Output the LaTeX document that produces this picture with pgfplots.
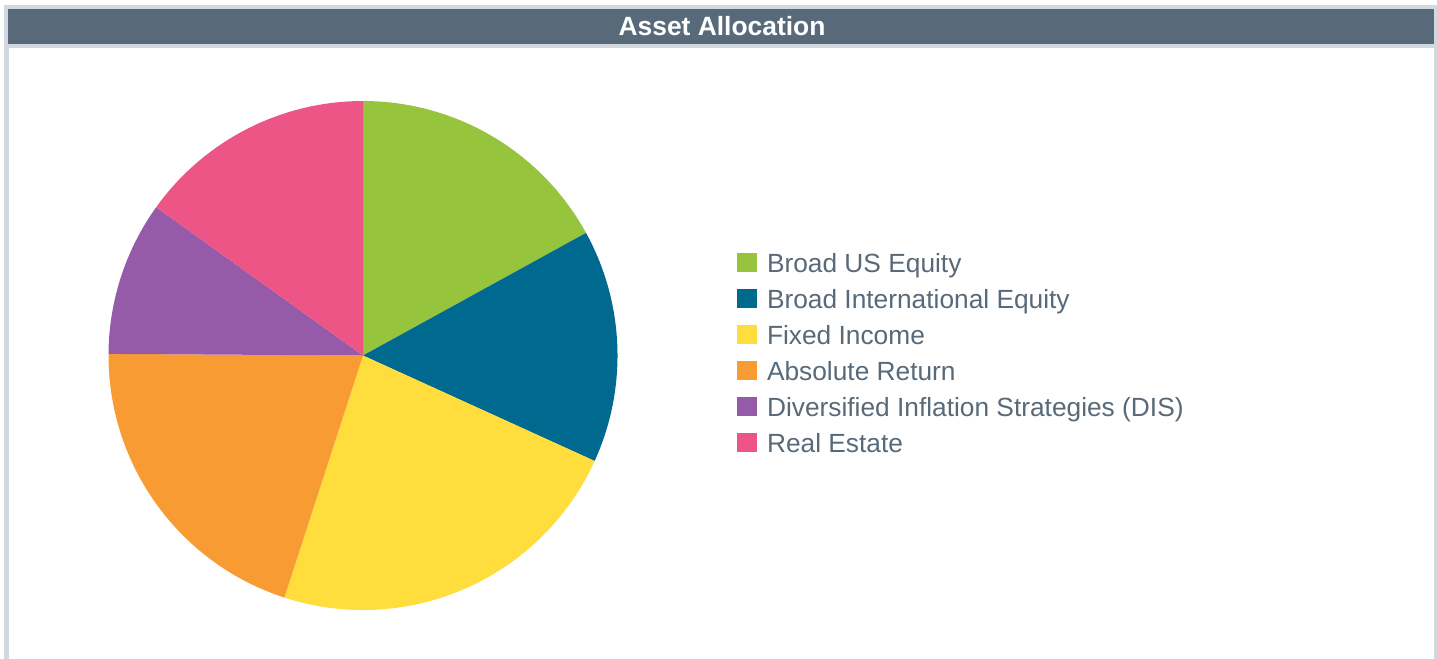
\documentclass[border=0pt]{standalone}
\usepackage{pgfplots}
\pgfplotsset{compat=1.18}
\usepackage{pgfplotstable}
\usepackage{fontspec}
\setmainfont{Liberation Sans}
\definecolor{framegray}{HTML}{D1D8DF}
\definecolor{titlebar}{HTML}{586A7A}
\definecolor{txt}{HTML}{586A7A}
\definecolor{cUS}{HTML}{97C43D}
\definecolor{cIntl}{HTML}{006990}
\definecolor{cFixed}{HTML}{FFDD3C}
\definecolor{cAbs}{HTML}{F99B33}
\definecolor{cDIS}{HTML}{955AA8}
\definecolor{cRE}{HTML}{EC5585}
% allocation shares in percent (clockwise from 12 o'clock)
\pgfplotstableread{
share
17.0
14.8
23.2
20.1
9.8
15.1
}\alloc
\begin{document}
\begin{tikzpicture}
% slice boundaries (degrees), computed from the shares
\pgfmathsetmacro\angO{90}
\pgfplotstablegetelem{0}{share}\of\alloc\pgfmathsetmacro\angA{\angO-3.6*\pgfplotsretval}
\pgfplotstablegetelem{1}{share}\of\alloc\pgfmathsetmacro\angB{\angA-3.6*\pgfplotsretval}
\pgfplotstablegetelem{2}{share}\of\alloc\pgfmathsetmacro\angC{\angB-3.6*\pgfplotsretval}
\pgfplotstablegetelem{3}{share}\of\alloc\pgfmathsetmacro\angD{\angC-3.6*\pgfplotsretval}
\pgfplotstablegetelem{4}{share}\of\alloc\pgfmathsetmacro\angE{\angD-3.6*\pgfplotsretval}
\pgfplotstablegetelem{5}{share}\of\alloc\pgfmathsetmacro\angF{\angE-3.6*\pgfplotsretval}
\begin{scope}[x=0.5bp,y=-0.5bp]
\useasboundingbox (0,0) rectangle (1437,659);
\fill[framegray] (4,5) rectangle (1437,659);
\fill[titlebar] (8,9) rectangle (1434,44);
\fill[white] (9,48) rectangle (1434,659);
\node[text=white, font=\bfseries\fontsize{13.2bp}{15bp}\selectfont, inner sep=0pt] at (722,26) {Asset Allocation};
\end{scope}
\begin{axis}[
  at={(181.5bp,-177.75bp)}, anchor=origin,
  x=127.25bp, y=127.25bp,
  xmin=-1, xmax=1, ymin=-1, ymax=1,
  hide axis, clip=false,
  legend cell align=left,
  legend image code/.code={\fill[#1] (0bp,-3bp) rectangle (9.75bp,6.75bp); \path (15bp,0bp);},
  legend style={at={(1.2348,0.499)}, anchor=west, draw=none, fill=none,
    inner sep=0pt, outer sep=0pt, row sep=0pt,
    font=\fontsize{13.15bp}{18bp}\selectfont, text=txt,
    nodes={inner sep=0pt, outer sep=0pt, text height=12bp, text depth=6bp}},
]
\addplot[fill=cUS, draw=none, domain=\angA:\angO, samples=80] ({cos(x)},{sin(x)}) -- (axis cs:0,0) -- cycle;
\addlegendentry{Broad US Equity}
\addplot[fill=cIntl, draw=none, domain=\angB:\angA, samples=80] ({cos(x)},{sin(x)}) -- (axis cs:0,0) -- cycle;
\addlegendentry{Broad International Equity}
\addplot[fill=cFixed, draw=none, domain=\angC:\angB, samples=100] ({cos(x)},{sin(x)}) -- (axis cs:0,0) -- cycle;
\addlegendentry{Fixed Income}
\addplot[fill=cAbs, draw=none, domain=\angD:\angC, samples=100] ({cos(x)},{sin(x)}) -- (axis cs:0,0) -- cycle;
\addlegendentry{Absolute Return}
\addplot[fill=cDIS, draw=none, domain=\angE:\angD, samples=60] ({cos(x)},{sin(x)}) -- (axis cs:0,0) -- cycle;
\addlegendentry{Diversified Inflation Strategies (DIS)}
\addplot[fill=cRE, draw=none, domain=\angF:\angE, samples=80] ({cos(x)},{sin(x)}) -- (axis cs:0,0) -- cycle;
\addlegendentry{Real Estate}
\end{axis}
\end{tikzpicture}
\end{document}
